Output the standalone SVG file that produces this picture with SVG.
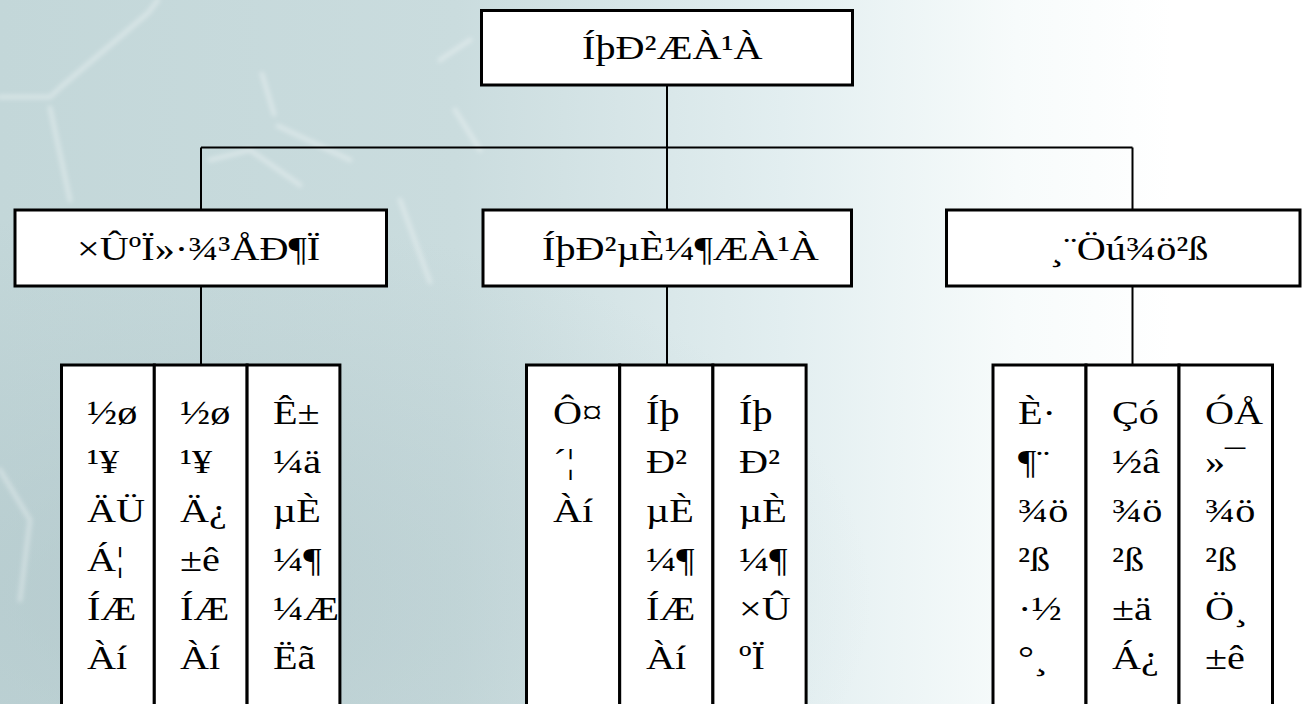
<svg xmlns="http://www.w3.org/2000/svg" width="1303" height="704" viewBox="0 0 1303 704">
  <defs>
    <linearGradient id="bg" x1="0" y1="0" x2="1" y2="0">
      <stop offset="0" stop-color="#c3d7d9"/>
      <stop offset="0.35" stop-color="#cadcde"/>
      <stop offset="0.6" stop-color="#e2eef0"/>
      <stop offset="0.78" stop-color="#f7fbfb"/>
      <stop offset="0.9" stop-color="#ffffff"/>
    </linearGradient>
    <radialGradient id="shade" cx="0.12" cy="0.85" r="0.55">
      <stop offset="0" stop-color="#a9c0c4" stop-opacity="0.5"/>
      <stop offset="1" stop-color="#a9c0c4" stop-opacity="0"/>
    </radialGradient>
    <filter id="soft" x="-10%" y="-10%" width="120%" height="120%">
      <feGaussianBlur stdDeviation="2.2"/>
    </filter>
    <style>
      .box { fill: #ffffff; stroke: #000000; stroke-width: 3; }
      .link { fill: none; stroke: #000000; stroke-width: 2; }
      .label { font-family: "Liberation Serif", "Times New Roman", serif; font-size: 33px; fill: #000000; }
      .bond { fill: none; stroke: #ffffff; stroke-opacity: 0.3; stroke-width: 5; stroke-linecap: round; stroke-linejoin: round; }
    </style>
  </defs>

  <!-- backdrop: pale teal wash with faint molecular sketch -->
  <rect x="0" y="0" width="1303" height="704" fill="url(#bg)"/>
  <rect x="0" y="0" width="1303" height="704" fill="url(#shade)"/>
  <g filter="url(#soft)">
    <path class="bond" d="M0 97 L50 97 L62 86 L128 30 L148 13 L158 0"/>
    <path class="bond" d="M50 108 L70 200"/>
    <path class="bond" d="M262 74 L274 114 M278 126 L350 160"/>
    <path class="bond" d="M400 200 L430 282"/>
    <path class="bond" d="M210 160 L250 150 L300 185"/>
    <path class="bond" d="M440 60 L470 40 M455 110 L480 150"/>
    <path class="bond" d="M0 470 L30 520 L20 600"/>
  </g>

  <!-- connectors -->
  <g id="connectors">
    <path class="link" d="M667 85 V147.5"/>
    <path class="link" d="M201 147.5 H1132.5"/>
    <path class="link" d="M201 147.5 V210 M667 147.5 V210 M1132.5 147.5 V210"/>
    <path class="link" d="M201 286 V365 M667 286 V365 M1132.5 286 V365"/>
  </g>

  <!-- root -->
  <g id="root">
    <rect class="box" x="481.5" y="10.5" width="371" height="74.5"/>
    <text class="label" transform="translate(582 59) scale(1.22 1)">ÍþÐ²ÆÀ¹À</text>
  </g>

  <!-- second level -->
  <g id="env">
    <rect class="box" x="15" y="210" width="371.5" height="76"/>
    <text class="label" transform="translate(77 260) scale(1.22 1)">×ÛºÏ»·¾³ÅÐ¶Ï</text>
  </g>
  <g id="grade">
    <rect class="box" x="483" y="210" width="368.5" height="76"/>
    <text class="label" transform="translate(542 260) scale(1.22 1)">ÍþÐ²µÈ¼¶ÆÀ¹À</text>
  </g>
  <g id="assist">
    <rect class="box" x="946.5" y="210" width="353.5" height="76"/>
    <text class="label" transform="translate(1050 260) scale(1.22 1)">¸¨Öú¾ö²ß</text>
  </g>

  <!-- third level, left group -->
  <g id="l1">
    <rect class="box" x="61.5" y="365" width="92.8" height="360"/>
    <text class="label" transform="translate(87 424) scale(1.22 1)"><tspan x="0" y="0">½ø</tspan><tspan x="0" y="49">¹¥</tspan><tspan x="0" y="98">ÄÜ</tspan><tspan x="0" y="147">Á¦</tspan><tspan x="0" y="196">ÍÆ</tspan><tspan x="0" y="245">Àí</tspan></text>
  </g>
  <g id="l2">
    <rect class="box" x="154.3" y="365" width="92.8" height="360"/>
    <text class="label" transform="translate(180 424) scale(1.22 1)"><tspan x="0" y="0">½ø</tspan><tspan x="0" y="49">¹¥</tspan><tspan x="0" y="98">Ä¿</tspan><tspan x="0" y="147">±ê</tspan><tspan x="0" y="196">ÍÆ</tspan><tspan x="0" y="245">Àí</tspan></text>
  </g>
  <g id="l3">
    <rect class="box" x="247.1" y="365" width="92.8" height="360"/>
    <text class="label" transform="translate(273 424) scale(1.22 1)"><tspan x="0" y="0">Ê±</tspan><tspan x="0" y="49">¼ä</tspan><tspan x="0" y="98">µÈ</tspan><tspan x="0" y="147">¼¶</tspan><tspan x="0" y="196">¼Æ</tspan><tspan x="0" y="245">Ëã</tspan></text>
  </g>

  <!-- third level, middle group -->
  <g id="m1">
    <rect class="box" x="526.5" y="365" width="93.2" height="360"/>
    <text class="label" transform="translate(553 424) scale(1.22 1)"><tspan x="0" y="0">Ô¤</tspan><tspan x="0" y="49">´¦</tspan><tspan x="0" y="98">Àí</tspan></text>
  </g>
  <g id="m2">
    <rect class="box" x="619.7" y="365" width="93.2" height="360"/>
    <text class="label" transform="translate(646 424) scale(1.22 1)"><tspan x="0" y="0">Íþ</tspan><tspan x="0" y="49">Ð²</tspan><tspan x="0" y="98">µÈ</tspan><tspan x="0" y="147">¼¶</tspan><tspan x="0" y="196">ÍÆ</tspan><tspan x="0" y="245">Àí</tspan></text>
  </g>
  <g id="m3">
    <rect class="box" x="712.9" y="365" width="93.2" height="360"/>
    <text class="label" transform="translate(739 424) scale(1.22 1)"><tspan x="0" y="0">Íþ</tspan><tspan x="0" y="49">Ð²</tspan><tspan x="0" y="98">µÈ</tspan><tspan x="0" y="147">¼¶</tspan><tspan x="0" y="196">×Û</tspan><tspan x="0" y="245">ºÏ</tspan></text>
  </g>

  <!-- third level, right group -->
  <g id="r1">
    <rect class="box" x="993" y="365" width="93" height="360"/>
    <text class="label" transform="translate(1018 424) scale(1.22 1)"><tspan x="0" y="0">È·</tspan><tspan x="0" y="49">¶¨</tspan><tspan x="0" y="98">¾ö</tspan><tspan x="0" y="147">²ß</tspan><tspan x="0" y="196">·½</tspan><tspan x="0" y="245">°¸</tspan></text>
  </g>
  <g id="r2">
    <rect class="box" x="1086" y="365" width="93" height="360"/>
    <text class="label" transform="translate(1112 424) scale(1.22 1)"><tspan x="0" y="0">Çó</tspan><tspan x="0" y="49">½â</tspan><tspan x="0" y="98">¾ö</tspan><tspan x="0" y="147">²ß</tspan><tspan x="0" y="196">±ä</tspan><tspan x="0" y="245">Á¿</tspan></text>
  </g>
  <g id="r3">
    <rect class="box" x="1179" y="365" width="93.5" height="360"/>
    <text class="label" transform="translate(1205 424) scale(1.22 1)"><tspan x="0" y="0">ÓÅ</tspan><tspan x="0" y="49">»¯</tspan><tspan x="0" y="98">¾ö</tspan><tspan x="0" y="147">²ß</tspan><tspan x="0" y="196">Ö¸</tspan><tspan x="0" y="245">±ê</tspan></text>
  </g>
</svg>
